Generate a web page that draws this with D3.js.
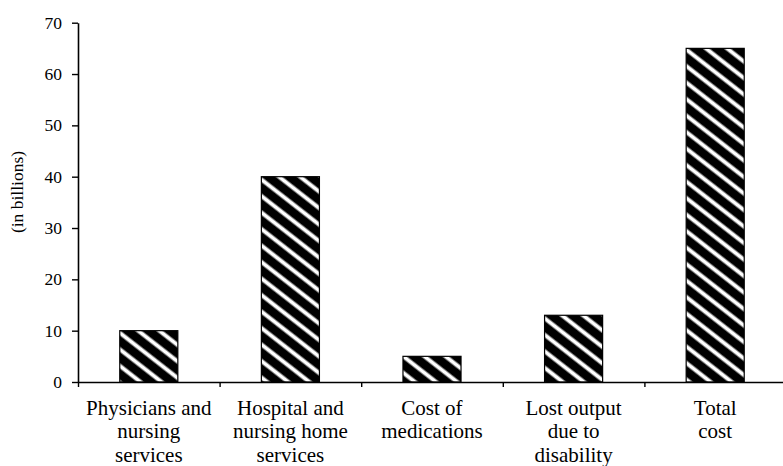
<!DOCTYPE html>
<html>
<head>
<meta charset="utf-8">
<script src="https://cdn.jsdelivr.net/npm/d3@7"></script>
<style>
  html, body { margin: 0; padding: 0; background: #fff; }
  svg { display: block; }
  svg text { font-family: "Liberation Serif", "DejaVu Serif", "Times New Roman", Times, serif !important; fill: #000; }
</style>
</head>
<body>
<div id="chart"></div>
<script>
const categories = [
  ["Physicians and", "nursing", "services"],
  ["Hospital and", "nursing home", "services"],
  ["Cost of", "medications"],
  ["Lost output", "due to", "disability"],
  ["Total", "cost"]
];
const values = [10, 40, 5, 13, 65];
const yTicks = [0, 10, 20, 30, 40, 50, 60, 70];
const yTitle = "(in billions)";

const W = 783, H = 466;
const svg = d3.select("#chart").append("svg").attr("width", W).attr("height", H);

const defs = svg.append("defs");
const pat = defs.append("pattern")
  .attr("id", "hatch")
  .attr("patternUnits", "userSpaceOnUse")
  .attr("width", 13).attr("height", 13)
  .attr("patternTransform", "rotate(38)");
pat.append("rect").attr("width", 13).attr("height", 13).attr("fill", "#000");
pat.append("rect").attr("y", 4.5).attr("width", 13).attr("height", 4).attr("fill", "#fff");

const x0 = 78, x1 = 786, yTop = 22.7, yBot = 382;
const idx = categories.map((d, i) => i);
const x = d3.scaleBand().domain(idx).range([x0, x1]).paddingInner(0).paddingOuter(0);
const xb = d3.scaleLinear().domain([0, categories.length]).range([x0, x1]);
const y = d3.scaleLinear().domain([0, 70]).range([yBot, yTop]);

const barW = x.bandwidth() * 0.41;

svg.append("g").selectAll("rect")
  .data(values)
  .join("rect")
  .attr("x", (d, i) => x(i) + x.bandwidth() / 2 - barW / 2)
  .attr("y", d => y(d))
  .attr("width", barW)
  .attr("height", d => y(0) - y(d))
  .attr("fill", "url(#hatch)")
  .attr("stroke", "#000")
  .attr("stroke-width", 1.2);

// Y axis
const yAxis = svg.append("g")
  .attr("transform", `translate(${x0},0)`)
  .call(d3.axisLeft(y).tickValues(yTicks).tickSize(6).tickSizeOuter(0).tickPadding(10).tickFormat(d3.format("d")));
yAxis.attr("font-family", null);
yAxis.select(".domain").attr("stroke-width", 1.6);
yAxis.selectAll(".tick line").attr("stroke-width", 1.4);
yAxis.selectAll(".tick text").attr("font-size", 17.5);

// X axis (boundary ticks)
const xAxis = svg.append("g")
  .attr("transform", `translate(0,${yBot})`)
  .call(d3.axisBottom(xb).tickValues(d3.range(0, categories.length + 1)).tickSize(5).tickSizeOuter(0).tickFormat(""));
xAxis.select(".domain").attr("stroke-width", 1.6);
xAxis.selectAll(".tick line").attr("stroke-width", 1.4);

// Category labels
const labels = svg.append("g").selectAll("text")
  .data(categories)
  .join("text")
  .attr("text-anchor", "middle")
  .attr("font-size", 21)
  .attr("x", (d, i) => x(i) + x.bandwidth() / 2)
  .attr("y", yBot + 33);
labels.selectAll("tspan")
  .data(d => d)
  .join("tspan")
  .attr("x", function () { return d3.select(this.parentNode).attr("x"); })
  .attr("dy", (d, j) => j === 0 ? 0 : 23.3)
  .text(d => d);

// Y title
svg.append("text")
  .attr("transform", `translate(23,192) rotate(-90)`)
  .attr("text-anchor", "middle")
  .attr("font-size", 17.5)
  .text(yTitle);
</script>
</body>
</html>
